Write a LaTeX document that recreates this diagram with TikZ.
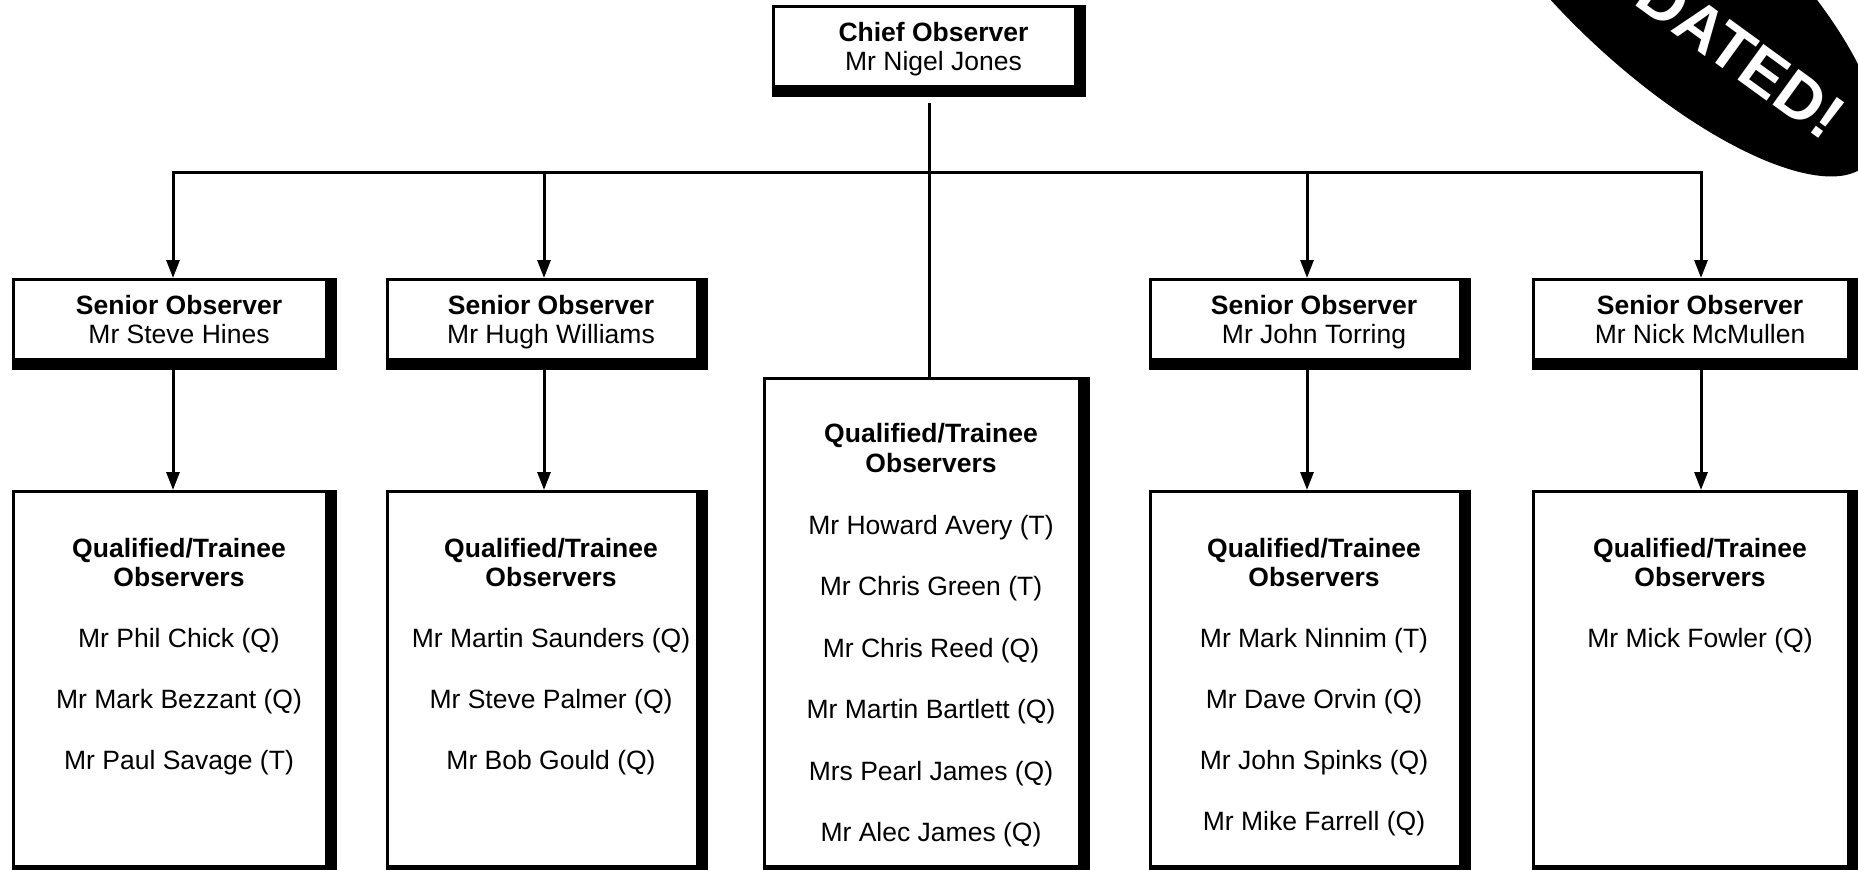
\documentclass[tikz,border=0pt]{standalone}
\usepackage{fontspec}
\setmainfont{Liberation Sans}
\usetikzlibrary{arrows.meta,backgrounds}

\tikzset{
  box/.style={draw, line width=3pt, fill=white, inner sep=0pt},
  senior/.style={box, minimum height=80pt},
  caption/.style={align=center, inner sep=0pt},
  names/.style={anchor=north, align=center, inner sep=0pt},
  link/.style={line width=3pt},
  tip/.tip={Triangle[width=13pt,length=18pt]},
  arrow/.style={link, -tip},
}

\begin{document}
\begin{tikzpicture}[x=1pt, y=-1pt, font=\fontsize{26.5}{29.5}\selectfont]
\useasboundingbox (0,0) rectangle (1858,870);
\clip (0,0) rectangle (1858,870);

% head of the chart
\node[box, minimum width=302pt, minimum height=80pt] (chief) at (924.5,46.5) {};
\node[caption] (tchief) at ([xshift=9pt]chief.center) {\textbf{Chief Observer}\\\smash{Mr Nigel Jones}};

% senior observers
\node[senior, minimum width=313pt] (sohines) at (170,319.5) {};
\node[senior, minimum width=310pt] (sowilliams) at (542,319.5) {};
\node[senior, minimum width=310pt] (sotorring) at (1305,319.5) {};
\node[senior, minimum width=315pt] (somcmullen) at (1691,319.5) {};

\node[caption] (thines) at ([xshift=9pt]sohines.center) {\textbf{Senior Observer}\\\smash{Mr Steve Hines}};
\node[caption] (twilliams) at ([xshift=9pt]sowilliams.center) {\textbf{Senior Observer}\\\smash{Mr Hugh Williams}};
\node[caption] (ttorring) at ([xshift=9pt]sotorring.center) {\textbf{Senior Observer}\\\smash{Mr John Torring}};
\node[caption] (tmcmullen) at ([xshift=9pt]somcmullen.center) {\textbf{Senior Observer}\\\smash{Mr Nick McMullen}};

% observer teams
\node[box, minimum width=313pt, minimum height=375pt] (qohines) at (170,679) {};
\node[box, minimum width=310pt, minimum height=375pt] (qowilliams) at (542,679) {};
\node[box, minimum width=315pt, minimum height=488pt] (qocentral) at (922,622.5) {};
\node[box, minimum width=310pt, minimum height=375pt] (qotorring) at (1305,679) {};
\node[box, minimum width=315pt, minimum height=375pt] (qomcmullen) at (1691,679) {};

\node[names] (lhines) at ([shift={(9,48)}]qohines.north) {\textbf{Qualified/Trainee}\\\textbf{Observers}\\[31pt]
  Mr Phil Chick (Q)\\[31.5pt]Mr Mark Bezzant (Q)\\[31.5pt]Mr Paul Savage (T)};
\node[names] (lwilliams) at ([shift={(9,48)}]qowilliams.north) {\textbf{Qualified/Trainee}\\\textbf{Observers}\\[31pt]
  Mr Martin Saunders (Q)\\[31.5pt]Mr Steve Palmer (Q)\\[31.5pt]Mr Bob Gould (Q)};
\node[names] (lcentral) at ([shift={(9,46)}]qocentral.north) {\textbf{Qualified/Trainee}\\[1pt]\textbf{Observers}\\[32pt]
  Mr Howard Avery (T)\\[32pt]Mr Chris Green (T)\\[32pt]Mr Chris Reed (Q)\\[32pt]Mr Martin Bartlett (Q)\\[32pt]Mrs Pearl James (Q)\\[32pt]Mr Alec James (Q)};
\node[names] (ltorring) at ([shift={(9,48)}]qotorring.north) {\textbf{Qualified/Trainee}\\\textbf{Observers}\\[31pt]
  Mr Mark Ninnim (T)\\[31.5pt]Mr Dave Orvin (Q)\\[31.5pt]Mr John Spinks (Q)\\[31.5pt]Mr Mike Farrell (Q)};
\node[names] (lmcmullen) at ([shift={(9,48)}]qomcmullen.north) {\textbf{Qualified/Trainee}\\\textbf{Observers}\\[31pt]
  Mr Mick Fowler (Q)};

% heavy right and bottom edges
\begin{scope}[on background layer]
\foreach \n in {chief,sohines,sowilliams,sotorring,somcmullen,qohines,qowilliams,qocentral,qotorring,qomcmullen}
  \fill (\n.north west) rectangle ([shift={(9,9)}]\n.south east);
\end{scope}

% connectors
\coordinate (stemtop) at (929,103);
\coordinate (hub) at (929,172);
\coordinate (bhines) at (173,172);
\coordinate (bwilliams) at (544,172);
\coordinate (btorring) at (1307,172);
\coordinate (bmcmullen) at (1701,172);

\draw[link] (stemtop) -- (hub) -- (hub |- qocentral.north);
\draw[link, tip-tip] (bhines |- sohines.north) -- (bhines) -- (bmcmullen) -- (bmcmullen |- somcmullen.north);
\draw[arrow] (bwilliams) -- (bwilliams |- sowilliams.north);
\draw[arrow] (btorring) -- (btorring |- sotorring.north);

\draw[arrow] (sohines.south -| bhines) -- (bhines |- qohines.north);
\draw[arrow] (sowilliams.south -| bwilliams) -- (bwilliams |- qowilliams.north);
\draw[arrow] (sotorring.south -| btorring) -- (btorring |- qotorring.north);
\draw[arrow] (somcmullen.south -| bmcmullen) -- (bmcmullen |- qomcmullen.north);

% badge in the corner
\fill[rotate around={-42.5:(1664.5,-23.3)}] (1664.5,-23.3) ellipse [x radius=276, y radius=97];
\node[text=white, font=\fontsize{64}{70}\selectfont\bfseries, rotate=-36, inner sep=0pt] (updated) at (1705,29) {UPDATED!};
\end{tikzpicture}
\end{document}
